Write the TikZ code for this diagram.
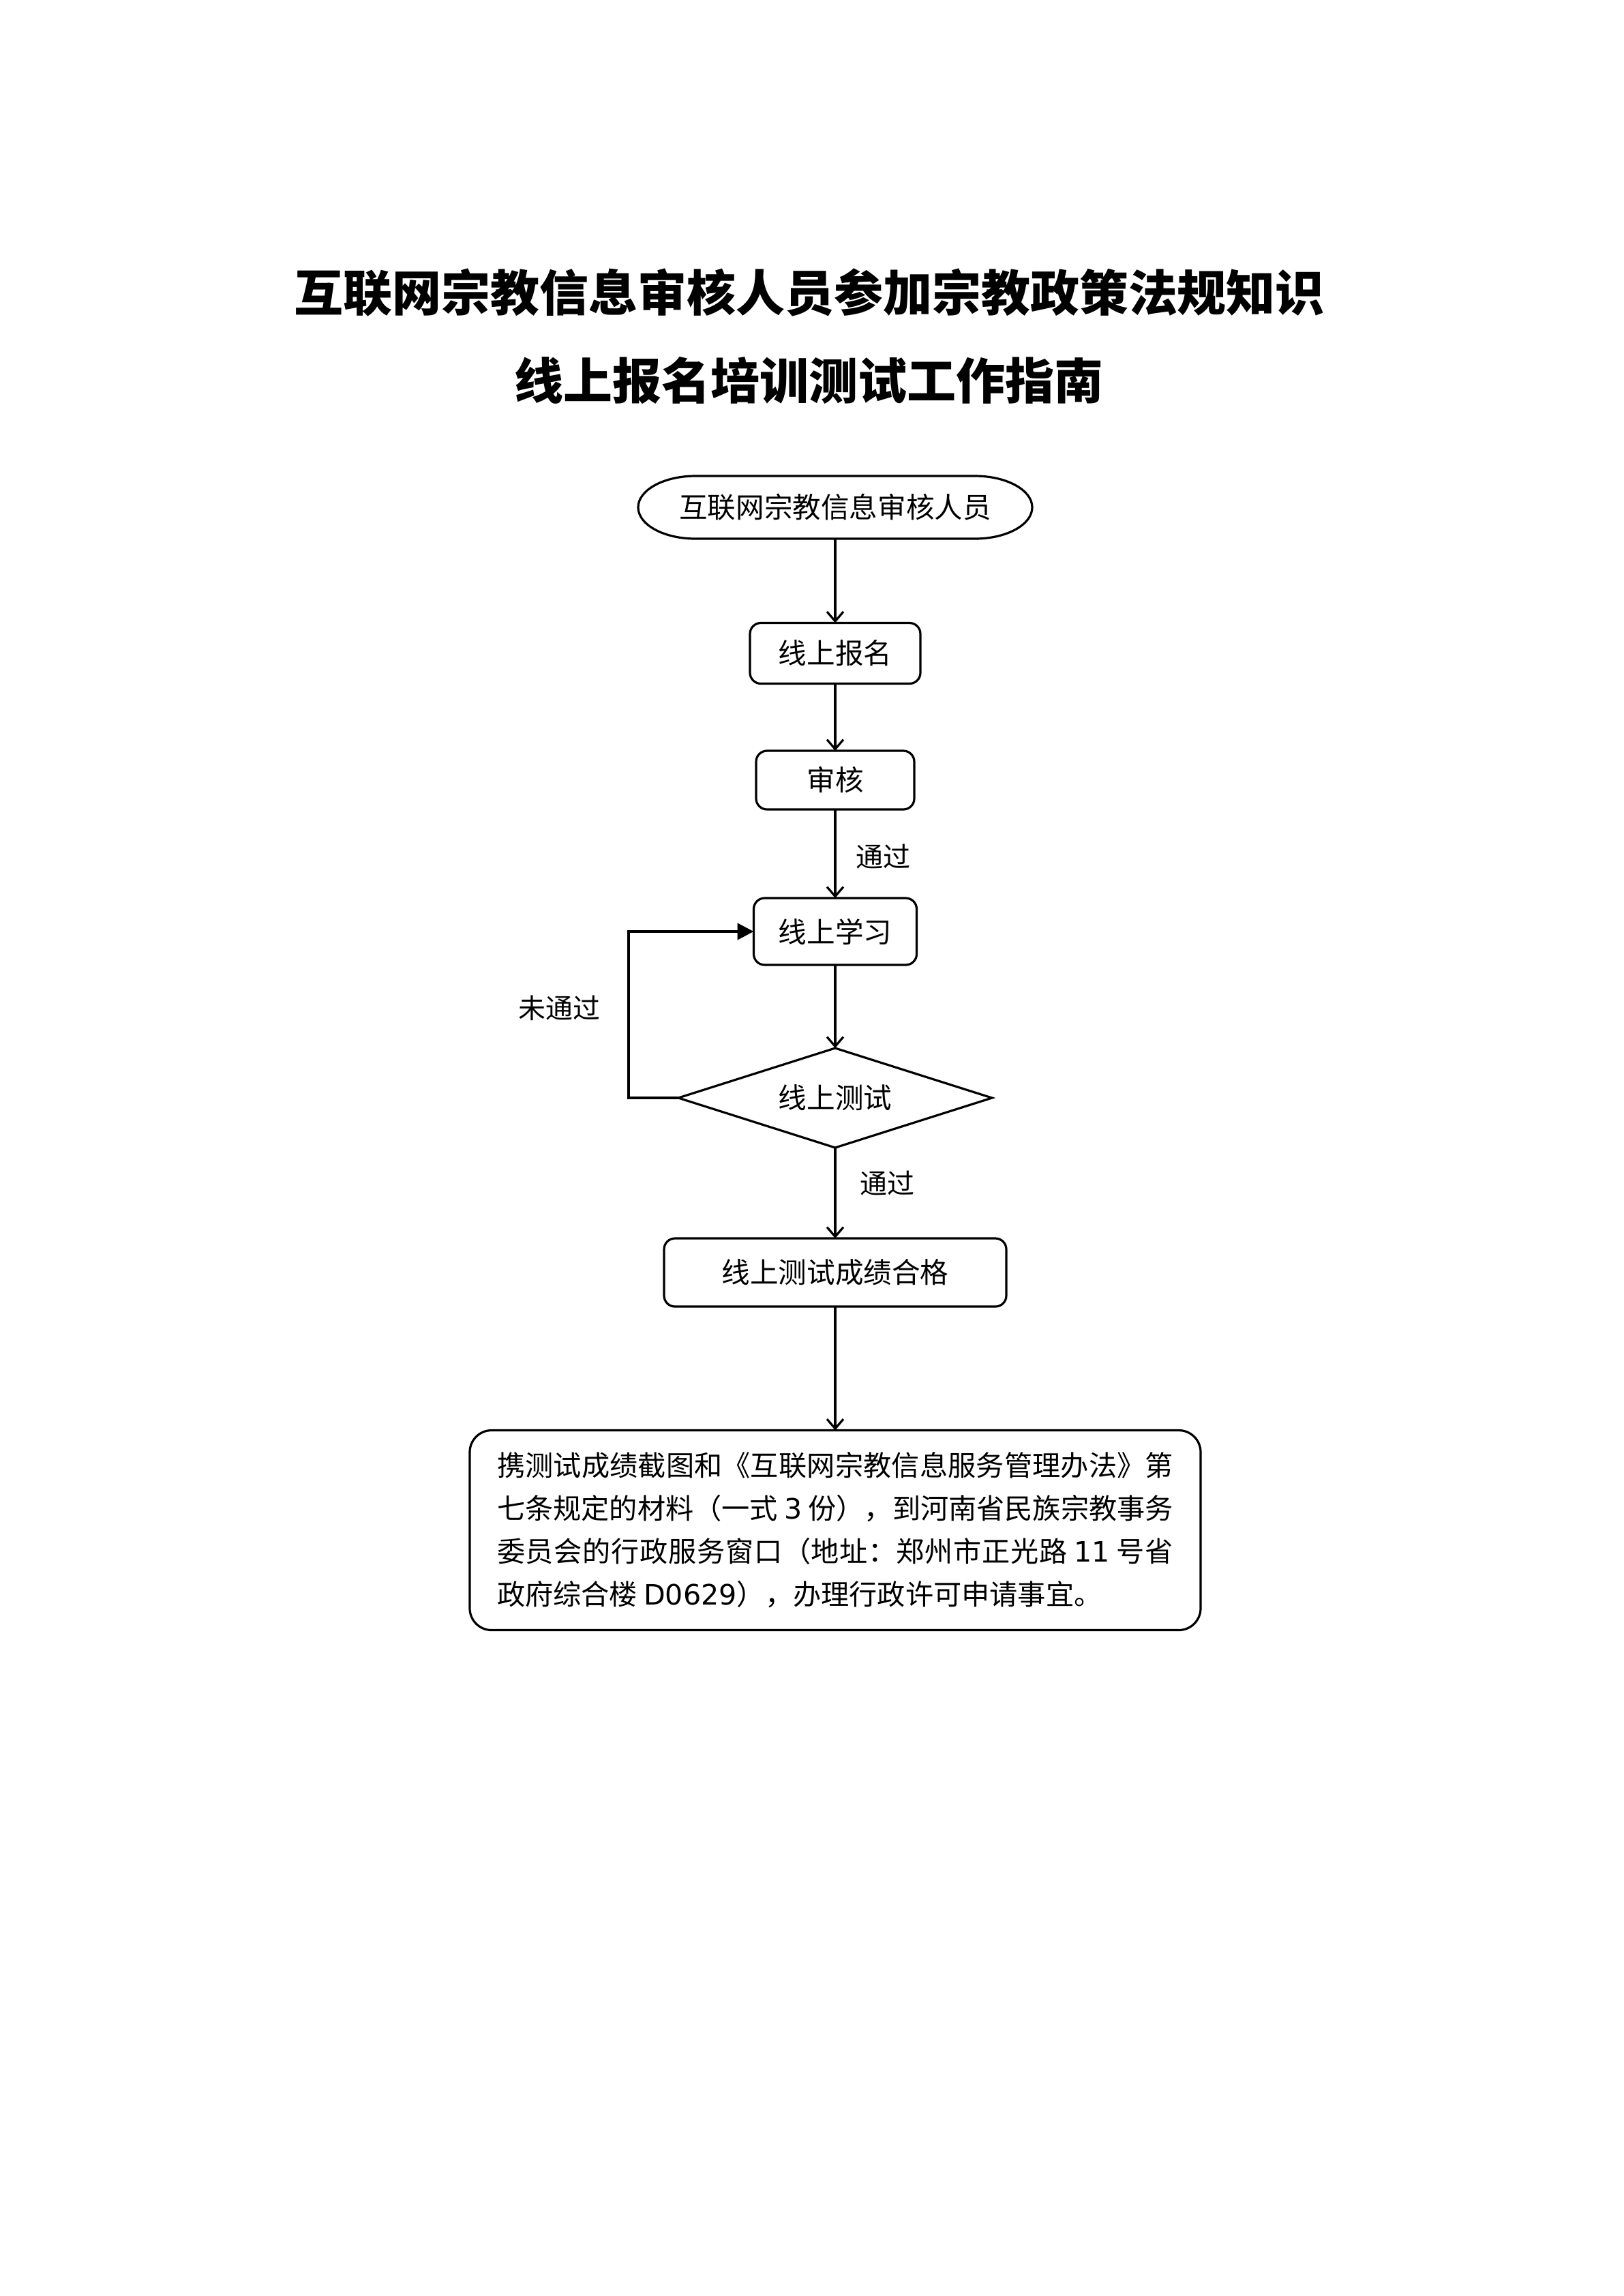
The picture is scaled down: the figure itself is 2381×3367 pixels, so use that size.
\documentclass[tikz,border=0pt]{standalone}
\usepackage{fontspec}
\setmainfont{Noto Sans CJK SC}
\newfontfamily\dv{DejaVu Sans}
\usetikzlibrary{arrows.meta}
\XeTeXlinebreaklocale "zh"
\XeTeXlinebreakskip=0pt plus 2pt
\begin{document}
\begin{tikzpicture}[x=0.25pt,y=-0.25pt,
  every node/.style={inner sep=0pt, outer sep=0pt},
  nodefont/.style={font=\fontsize{10.4pt}{12pt}\selectfont},
  box/.style={draw, line width=0.8pt, rounded corners=4pt, nodefont},
  conn/.style={line width=0.8pt, -{Straight Barb[length=3.5pt,width=6pt]}},
  loopconn/.style={line width=1.1pt, -{Triangle[length=6pt,width=6pt]}},
  lbl/.style={font=\fontsize{10pt}{12pt}\selectfont},
  ttl/.style={font=\fontsize{18pt}{22pt}\selectfont\bfseries}]
\useasboundingbox (0,0) rectangle (2381,3367);
\fill[white] (0,0) rectangle (2381,3367);

% title
\node[ttl] (t1) at (1187,429) {互联网宗教信息审核人员参加宗教政策法规知识};
\node[ttl] (t2) at (1186,558) {线上报名培训测试工作指南};

% start (stadium)
\node[nodefont, minimum width=144.5pt, minimum height=23pt] (start) at (1225,744) {互联网宗教信息审核人员};
\draw[line width=0.8pt] ([xshift=21pt]start.north west) -- ([xshift=-21pt]start.north east)
  arc[start angle=90, end angle=-90, x radius=21pt, y radius=11.5pt]
  -- ([xshift=21pt]start.south west)
  arc[start angle=270, end angle=90, x radius=21pt, y radius=11.5pt] -- cycle;

\node[box, minimum width=62.5pt, minimum height=22.25pt] (baoming) at (1225,958) {线上报名};
\node[box, minimum width=58pt, minimum height=21.5pt] (shenhe) at (1225,1144) {审核};
\node[box, minimum width=59.75pt, minimum height=24.5pt] (xuexi) at (1225,1366) {线上学习};

\node[nodefont, minimum width=115pt, minimum height=36.5pt] (test) at (1225,1610) {线上测试};
\draw[line width=0.8pt] (test.north) -- (test.east) -- (test.south) -- (test.west) -- cycle;

\node[box, minimum width=125.5pt, minimum height=25pt] (hege) at (1225,1866) {线上测试成绩合格};

\node[box, rounded corners=8pt, minimum width=268pt, minimum height=73.25pt] (final) at (1225,2244)
 {\parbox{248pt}{\fontsize{10.3pt}{15.75pt}\selectfont\noindent
 携测试成绩截图和《互联网宗教信息服务管理办法》第\linebreak
 七条规定的材料（一式 {\dv 3} 份），到河南省民族宗教事务\linebreak
 委员会的行政服务窗口（地址：郑州市正光路 {\dv 11} 号省\linebreak
 政府综合楼 {\dv D0629}），办理行政许可申请事宜。}};

% labels
\node[lbl] (l1) at (1295,1256) {通过};
\node[lbl] (l2) at (820,1478) {未通过};
\node[lbl] (l3) at (1301,1735) {通过};

% connectors
\draw[conn] (start.south) -- (baoming.north);
\draw[conn] (baoming.south) -- (shenhe.north);
\draw[conn] (shenhe.south) -- (xuexi.north);
\draw[conn] (xuexi.south) -- (test.north);
\draw[conn] (test.south) -- (hege.north);
\draw[conn] (hege.south) -- (final.north);
\draw[loopconn] (test.west) -- ++(-73,0) |- (xuexi.west);
\end{tikzpicture}
\end{document}
